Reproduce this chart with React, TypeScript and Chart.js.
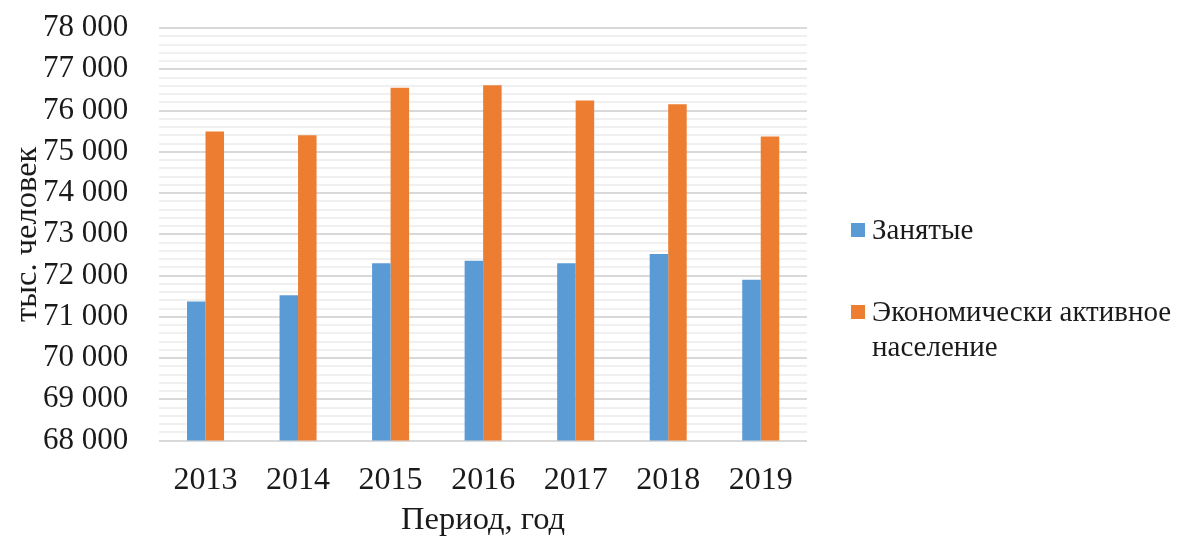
import React, { useEffect, useRef } from "react";
import { Chart, registerables } from "chart.js";

Chart.register(...registerables);

const years = ["2013", "2014", "2015", "2016", "2017", "2018", "2019"];
const employed = [71370, 71520, 72300, 72360, 72300, 72520, 71900];
const active = [75490, 75400, 76550, 76610, 76240, 76150, 75370];
const seriesNames = ["Занятые", "Экономически активное население"];
const legendLines = [["Занятые"], ["Экономически активное", "население"]];
const yMin = 68000;
const yMax = 78000;
const yMinorStep = 200;
const yMajorStep = 1000;
const yTitle = "тыс. человек";
const xTitle = "Период, год";

const BLUE = "#5B9BD5";
const ORANGE = "#ED7D31";
const FONT = "'Liberation Serif', 'Times New Roman', serif";
const TEXT = "#1a1a1a";

const fmt = (v: number) => String(v).replace(/\B(?=(\d{3})+(?!\d))/g, " ");

const legendPlugin = {
  id: "customLegend",
  afterDraw(chart: any) {
    const { ctx, chartArea } = chart;
    const colors = [BLUE, ORANGE];
    const x0 = chartArea.right + 44;
    const rowsY = [222, 304];
    ctx.save();
    ctx.font = `29px ${FONT}`;
    ctx.textBaseline = "middle";
    legendLines.forEach((lines, i) => {
      ctx.fillStyle = colors[i];
      ctx.fillRect(x0, rowsY[i] - 7, 14, 14);
      ctx.fillStyle = TEXT;
      lines.forEach((t, j) => {
        ctx.fillText(t, x0 + 21, rowsY[i] + 1 + j * 35);
      });
    });
    ctx.restore();
  },
};

export default function App() {
  const ref = useRef<HTMLCanvasElement | null>(null);
  useEffect(() => {
    if (!ref.current) return;
    const chart = new Chart(ref.current, {
      type: "bar",
      data: {
        labels: years,
        datasets: [
          {
            label: seriesNames[0],
            data: employed,
            backgroundColor: BLUE,
            barPercentage: 1,
            categoryPercentage: 0.4,
          },
          {
            label: seriesNames[1],
            data: active,
            backgroundColor: ORANGE,
            barPercentage: 1,
            categoryPercentage: 0.4,
          },
        ],
      },
      options: {
        animation: false,
        responsive: true,
        maintainAspectRatio: false,
        layout: { padding: { top: 20, right: 364, left: 0, bottom: 0 } },
        plugins: {
          legend: { display: false },
          tooltip: { enabled: false },
        },
        scales: {
          x: {
            grid: { display: false },
            border: { display: false },
            ticks: {
              color: TEXT,
              font: { family: FONT, size: 32 },
              padding: 13,
            },
            title: {
              display: true,
              text: xTitle,
              color: TEXT,
              font: { family: FONT, size: 32.5 },
              padding: { top: -12, bottom: -3 },
            },
          },
          y: {
            min: yMin,
            max: yMax,
            border: { display: false },
            grid: {
              drawTicks: true,
              tickLength: 30,
              tickColor: "rgba(0,0,0,0)",
              color: (c: any) =>
                c.tick && c.tick.value % yMajorStep === 0 ? "#d9d9d9" : "#f0f0f0",
              lineWidth: 2,
            },
            ticks: {
              stepSize: yMinorStep,
              autoSkip: false,
              color: TEXT,
              font: { family: FONT, size: 31 },
              padding: 1,
              callback: (v: any) => (Number(v) % yMajorStep === 0 ? fmt(Number(v)) : ""),
            },
            title: {
              display: true,
              text: yTitle,
              color: TEXT,
              font: { family: FONT, size: 32.5 },
              padding: { top: 0, bottom: -5 },
            },
          },
        },
      },
      plugins: [legendPlugin],
    });
    return () => chart.destroy();
  }, []);
  return (
    <div style={{ width: 1163, height: 529, position: "relative" }}>
      <canvas ref={ref} />
    </div>
  );
}
